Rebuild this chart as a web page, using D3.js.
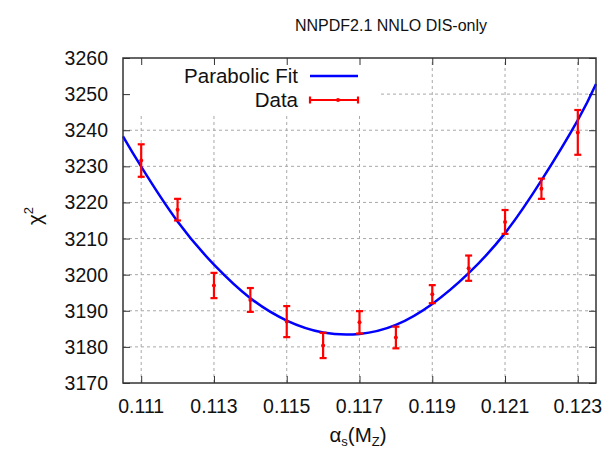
<!DOCTYPE html>
<html>
<head>
<meta charset="utf-8">
<script src="https://cdn.jsdelivr.net/npm/d3@7.9.0/dist/d3.min.js"></script>
<style>
  body { margin: 0; background: #fff; }
  svg { display: block; font-family: "Liberation Sans", Arial, sans-serif; }
</style>
</head>
<body>
<svg width="604" height="455"></svg>
<script>
// measured points (alpha_s, chi2, error)
const alphaS = [0.111, 0.112, 0.113, 0.114, 0.115, 0.116, 0.117, 0.118, 0.119, 0.120, 0.121, 0.122, 0.123];
const chi2 = [3231.6, 3218.0, 3197.0, 3193.0, 3187.0, 3180.4, 3186.8, 3182.6, 3194.6, 3201.8, 3214.6, 3223.8, 3239.4];
const chi2Err = [4.5, 3.0, 3.5, 3.3, 4.3, 3.5, 3.1, 3.0, 2.5, 3.5, 3.3, 2.8, 6.2];

// parabolic fit curve
const fitAlpha = [0.1105, 0.111, 0.112, 0.113, 0.114, 0.115, 0.116, 0.117, 0.118, 0.119, 0.120, 0.121, 0.122, 0.123, 0.1235];
const fitChi2 = [3238.3, 3229.9, 3214.7, 3202.8, 3193.5, 3187.3, 3184.0, 3183.6, 3186.1, 3191.9, 3200.4, 3211.5, 3226.1, 3242.8, 3252.8];

const xTicks = [0.111, 0.113, 0.115, 0.117, 0.119, 0.121, 0.123];
const yTicks = [3170, 3180, 3190, 3200, 3210, 3220, 3230, 3240, 3250, 3260];

const margin = { top: 58, right: 8, bottom: 72, left: 123 };
const width = 604, height = 455;
const tickFont = 19.5;
const labelFont = 20.5;

const svg = d3.select('svg');

const x = d3.scaleLinear().domain([0.1105, 0.1235]).range([margin.left, width - margin.right]);
const y = d3.scaleLinear().domain([3170, 3260]).range([height - margin.bottom, margin.top]);

// grid
const grid = svg.append('g')
  .attr('stroke', '#a8a8a8')
  .attr('stroke-width', 1)
  .attr('stroke-dasharray', '3,3');

xTicks.forEach((t) => {
  grid.append('line')
    .attr('x1', x(t)).attr('x2', x(t))
    .attr('y1', y(3170)).attr('y2', y(3260));
});
yTicks.slice(1, -1).forEach((t) => {
  grid.append('line')
    .attr('x1', x.range()[0]).attr('x2', x.range()[1])
    .attr('y1', y(t)).attr('y2', y(t));
});

// legend box hides the grid behind it
svg.append('rect')
  .attr('x', x.range()[0] + 1).attr('y', y(3260) + 1)
  .attr('width', 255).attr('height', 56)
  .attr('fill', '#fff');

// axes with inward ticks on all sides
const tickLen = 7;
svg.append('g')
  .attr('transform', `translate(0,${y(3170)})`)
  .call(d3.axisTop(x).tickValues(xTicks).tickSize(tickLen).tickFormat(''))
  .call((g) => g.select('.domain').remove());
svg.append('g')
  .attr('transform', `translate(0,${y(3260)})`)
  .call(d3.axisBottom(x).tickValues(xTicks).tickSize(tickLen).tickFormat(''))
  .call((g) => g.select('.domain').remove());
svg.append('g')
  .attr('transform', `translate(${x.range()[0]},0)`)
  .call(d3.axisRight(y).tickValues(yTicks).tickSize(tickLen).tickFormat(''))
  .call((g) => g.select('.domain').remove());
svg.append('g')
  .attr('transform', `translate(${x.range()[1]},0)`)
  .call(d3.axisLeft(y).tickValues(yTicks).tickSize(tickLen).tickFormat(''))
  .call((g) => g.select('.domain').remove());
svg.selectAll('.tick line').attr('stroke', '#333').attr('stroke-width', 1);

// tick labels
svg.append('g')
  .selectAll('text')
  .data(xTicks)
  .join('text')
  .attr('x', (d) => x(d))
  .attr('y', 413)
  .attr('text-anchor', 'middle')
  .attr('font-size', tickFont)
  .attr('fill', '#111')
  .text((d) => d3.format('.3f')(d));

svg.append('g')
  .selectAll('text')
  .data(yTicks)
  .join('text')
  .attr('x', 108)
  .attr('y', (d) => y(d))
  .attr('dy', '0.36em')
  .attr('text-anchor', 'end')
  .attr('font-size', tickFont)
  .attr('fill', '#111')
  .text((d) => d);

// fit curve
const fitData = fitAlpha.map((a, i) => ({ a, c: fitChi2[i] }));
svg.append('path')
  .datum(fitData)
  .attr('fill', 'none')
  .attr('stroke', '#0000ff')
  .attr('stroke-width', 2.5)
  .attr('d', d3.line().x((d) => x(d.a)).y((d) => y(d.c)).curve(d3.curveNatural));

// data with error bars
const pts = alphaS.map((a, i) => ({ a, c: chi2[i], e: chi2Err[i] }));
const capW = 3.5;
const bars = svg.append('g').attr('stroke', '#ff0000').attr('stroke-width', 2.2);
pts.forEach((d) => {
  const px = x(d.a);
  bars.append('line').attr('x1', px).attr('x2', px).attr('y1', y(d.c - d.e)).attr('y2', y(d.c + d.e));
  bars.append('line').attr('x1', px - capW).attr('x2', px + capW).attr('y1', y(d.c + d.e)).attr('y2', y(d.c + d.e));
  bars.append('line').attr('x1', px - capW).attr('x2', px + capW).attr('y1', y(d.c - d.e)).attr('y2', y(d.c - d.e));
});
svg.append('g')
  .selectAll('circle')
  .data(pts)
  .join('circle')
  .attr('cx', (d) => x(d.a))
  .attr('cy', (d) => y(d.c))
  .attr('r', 2)
  .attr('fill', '#ff0000');

// frame
svg.append('rect')
  .attr('x', x.range()[0]).attr('y', y(3260))
  .attr('width', x.range()[1] - x.range()[0])
  .attr('height', y(3170) - y(3260))
  .attr('fill', 'none')
  .attr('stroke', '#333')
  .attr('stroke-width', 1.5);

// legend
const legend = svg.append('g').attr('font-size', labelFont).attr('fill', '#111');
legend.append('text').attr('x', 298).attr('y', 83).attr('text-anchor', 'end').text('Parabolic Fit');
legend.append('text').attr('x', 298).attr('y', 107).attr('text-anchor', 'end').text('Data');
svg.append('line').attr('x1', 310).attr('x2', 358).attr('y1', 76).attr('y2', 76)
  .attr('stroke', '#0000ff').attr('stroke-width', 2.5);
const lg = svg.append('g').attr('stroke', '#ff0000').attr('stroke-width', 2.2);
lg.append('line').attr('x1', 310).attr('x2', 358).attr('y1', 100).attr('y2', 100);
lg.append('line').attr('x1', 310).attr('x2', 310).attr('y1', 96.5).attr('y2', 103.5);
lg.append('line').attr('x1', 358).attr('x2', 358).attr('y1', 96.5).attr('y2', 103.5);
svg.append('circle').attr('cx', 338).attr('cy', 100).attr('r', 2).attr('fill', '#ff0000');

// title
svg.append('text')
  .attr('x', 391).attr('y', 31)
  .attr('text-anchor', 'middle')
  .attr('font-size', 16)
  .attr('fill', '#111')
  .text('NNPDF2.1 NNLO DIS-only');

// axis labels
const yl = svg.append('text')
  .attr('transform', 'translate(42,216) rotate(-90)')
  .attr('text-anchor', 'middle')
  .attr('font-size', labelFont)
  .attr('fill', '#111');
yl.append('tspan').text('χ');
yl.append('tspan').attr('font-size', 13).attr('dy', -9).text('2');

const xl = svg.append('text')
  .attr('x', 358).attr('y', 442)
  .attr('text-anchor', 'middle')
  .attr('font-size', labelFont)
  .attr('fill', '#111');
xl.append('tspan').text('α');
xl.append('tspan').attr('font-size', 13).attr('dy', 4).text('s');
xl.append('tspan').attr('dy', -4).text('(M');
xl.append('tspan').attr('font-size', 13).attr('dy', 4).text('Z');
xl.append('tspan').attr('dy', -4).text(')');
</script>
</body>
</html>
